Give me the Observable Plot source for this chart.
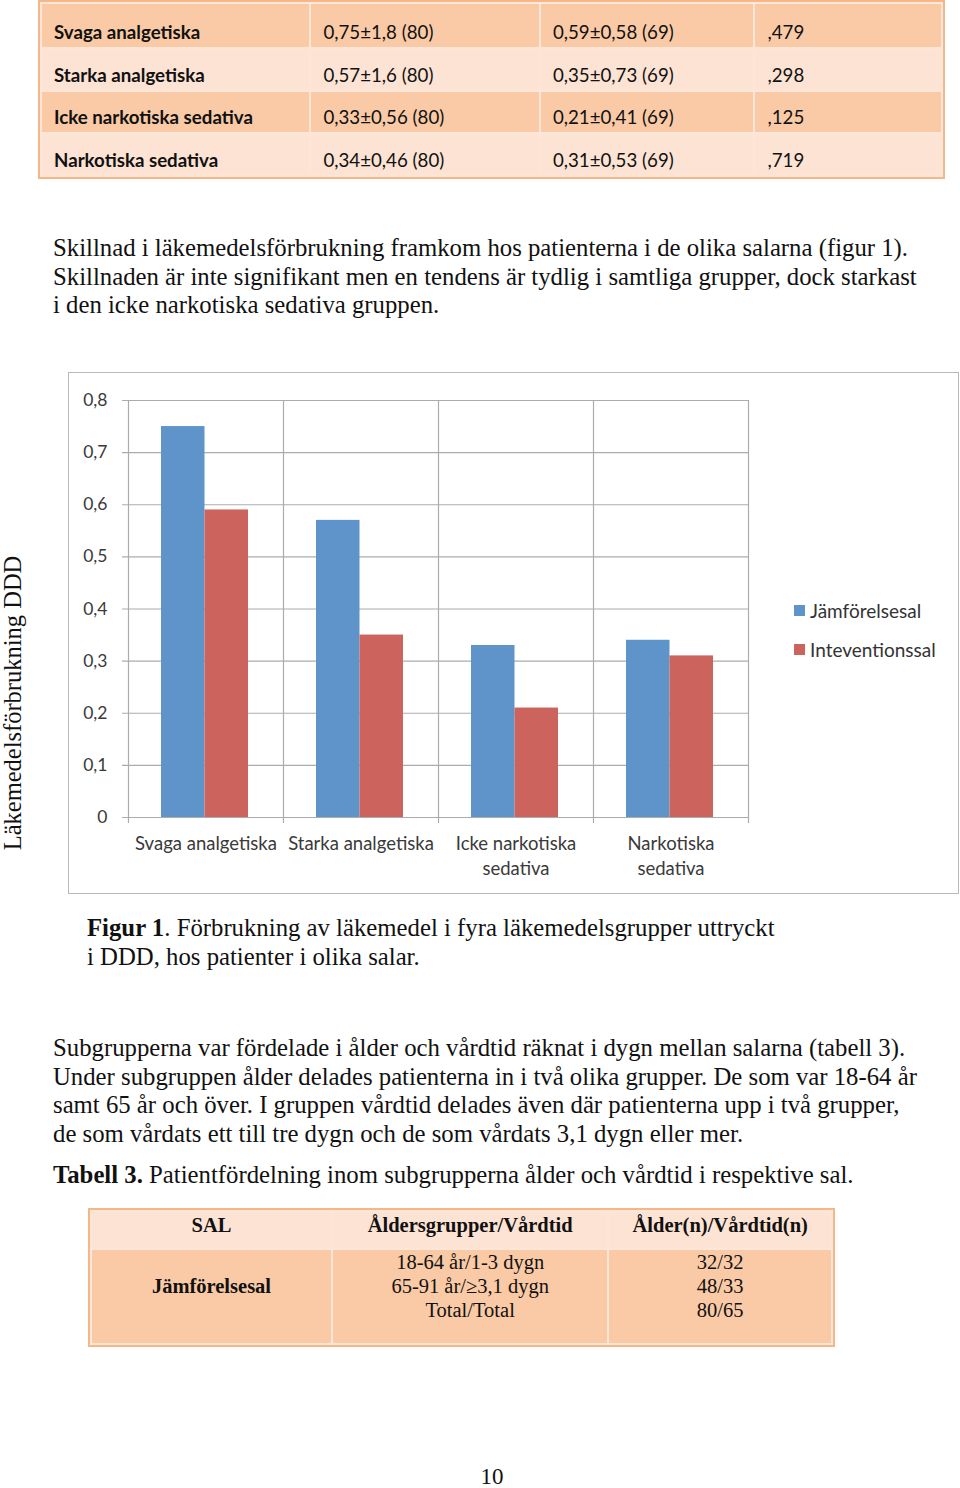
<!DOCTYPE html>
<html>
<head>
<meta charset="utf-8">
<script src="https://cdn.jsdelivr.net/npm/d3@7"></script>
<script src="https://cdn.jsdelivr.net/npm/@observablehq/plot@0.6"></script>
<style>
  html, body { margin: 0; padding: 0; background: #fff; }
  #page { position: relative; width: 960px; height: 1488px; overflow: hidden; background: #fff; }
  .abs { position: absolute; }
  .serif { font-family: "Liberation Serif", "Times New Roman", serif; color: #111; }
  table { border-collapse: collapse; }
  #t1 { left: 40px; top: 2px; width: 903px; font-family: Lato, sans-serif; font-size: 18.7px; color: #111; }
  #t1 td { height: 42.5px; padding: 0 0 4px 12px; vertical-align: bottom; border: 2px solid #fbe6d8; box-sizing: border-box; line-height: 22px; }
  #t1 tr:first-child td { height: 45px; }
  #t1 { outline: 2px solid #f5b68a; }
  #t1 tr.dark td { background: #f9caa5; }
  #t1 tr.light td { background: #fce3d3; }
  #t1 td:first-child { font-weight: bold; }
  .para { left: 53px; font-size: 24.75px; line-height: 28.6px; white-space: nowrap; }
  #frame { left: 68px; top: 372px; width: 889px; height: 520px; border: 1.5px solid #b9b9b9; }
  #chart { left: 0; top: 372px; }
  #ylabel { left: 13px; top: 703px; transform: translate(-50%, -50%) rotate(-90deg); white-space: nowrap; font-size: 24.5px; line-height: 1; }
  #legend { left: 794px; top: 591px; font-family: Lato, sans-serif; font-size: 19px; color: #333; }
  #legend div { height: 39px; display: flex; align-items: center; }
  #legend span.sw { display: inline-block; width: 11px; height: 11px; margin-right: 5px; }
  #t3 { left: 90px; top: 1210px; width: 743px; font-size: 20.5px; outline: 2px solid #f5b68a; }
  #t3 td { border: 2px solid #fbe6d8; text-align: center; box-sizing: border-box; }
  #t3 tr.head td { background: #fce3d3; font-weight: bold; height: 38px; vertical-align: top; padding-top: 2px; }
  #t3 tr.body td { background: #f9caa5; height: 95px; vertical-align: top; padding-top: 0px; line-height: 24px; }
</style>
</head>
<body>
<div id="page">
  <table id="t1" class="abs"></table>

  <div class="abs serif para" style="top:234px;">Skillnad i läkemedelsförbrukning framkom hos patienterna i de olika salarna (figur 1).<br>Skillnaden är inte signifikant men en tendens är tydlig i samtliga grupper, dock starkast<br>i den icke narkotiska sedativa gruppen.</div>

  <div id="frame" class="abs"></div>
  <div id="chart" class="abs"></div>
  <div id="ylabel" class="abs serif">Läkemedelsförbrukning DDD</div>
  <div id="legend" class="abs"></div>

  <div class="abs serif para" style="left:87px; top:914px;"><b>Figur 1</b>. Förbrukning av läkemedel i fyra läkemedelsgrupper uttryckt<br>i DDD, hos patienter i olika salar.</div>

  <div class="abs serif para" style="top:1034px;">Subgrupperna var fördelade i ålder och vårdtid räknat i dygn mellan salarna (tabell 3).<br>Under subgruppen ålder delades patienterna in i två olika grupper. De som var 18-64 år<br>samt 65 år och över. I gruppen vårdtid delades även där patienterna upp i två grupper,<br>de som vårdats ett till tre dygn och de som vårdats 3,1 dygn eller mer.</div>

  <div class="abs serif para" style="top:1161px;"><b>Tabell 3.</b> Patientfördelning inom subgrupperna ålder och vårdtid i respektive sal.</div>

  <table id="t3" class="abs serif"></table>

  <div class="abs serif" style="left:492px; top:1477px; transform: translate(-50%,-50%); font-size:23px;">10</div>
</div>

<script>
// ---- data ----
const categories = ["Svaga analgetiska", "Starka analgetiska", "Icke narkotiska sedativa", "Narkotiska sedativa"];
const xLabels = ["Svaga analgetiska", "Starka analgetiska", "Icke narkotiska\nsedativa", "Narkotiska\nsedativa"];
const seriesNames = ["Jämförelsesal", "Inteventionssal"];
const jamforelsesal = [0.75, 0.57, 0.33, 0.34];
const interventionssal = [0.59, 0.35, 0.21, 0.31];
const yTicks = [0, 0.1, 0.2, 0.3, 0.4, 0.5, 0.6, 0.7, 0.8];
const seriesColors = ["#5f94ca", "#cc645d"];

// table rows (above chart)
const t1Names = categories;
const t1Col2 = ["0,75±1,8 (80)", "0,57±1,6 (80)", "0,33±0,56 (80)", "0,34±0,46 (80)"];
const t1Col3 = ["0,59±0,58 (69)", "0,35±0,73 (69)", "0,21±0,41 (69)", "0,31±0,53 (69)"];
const t1P = [",479", ",298", ",125", ",719"];

// table 3
const t3Head = ["SAL", "Åldersgrupper/Vårdtid", "Ålder(n)/Vårdtid(n)"];
const t3Sal = "Jämförelsesal";
const t3Groups = ["18-64 år/1-3 dygn", "65-91 år/≥3,1 dygn", "Total/Total"];
const t3Counts = ["32/32", "48/33", "80/65"];

// ---- tables ----
const t1 = document.getElementById("t1");
const colW = [270, 230, 215, 188];
t1Names.forEach((n, i) => {
  const tr = document.createElement("tr");
  tr.className = i % 2 === 0 ? "dark" : "light";
  [n, t1Col2[i], t1Col3[i], t1P[i]].forEach((v, j) => {
    const td = document.createElement("td");
    td.textContent = v;
    td.style.width = colW[j] + "px";
    tr.appendChild(td);
  });
  t1.appendChild(tr);
});

const t3 = document.getElementById("t3");
const t3W = [242, 277, 224];
{
  const tr = document.createElement("tr"); tr.className = "head";
  t3Head.forEach((h, j) => { const td = document.createElement("td"); td.textContent = h; td.style.width = t3W[j] + "px"; tr.appendChild(td); });
  t3.appendChild(tr);
  const tr2 = document.createElement("tr"); tr2.className = "body";
  const a = document.createElement("td"); a.innerHTML = "<b>" + t3Sal + "</b>"; a.style.verticalAlign = "top"; a.style.paddingTop = "24px";
  const b = document.createElement("td"); b.innerHTML = t3Groups.join("<br>");
  const c = document.createElement("td"); c.innerHTML = t3Counts.join("<br>");
  tr2.append(a, b, c);
  t3.appendChild(tr2);
}

// ---- chart ----
const data = categories.flatMap((c, i) => [
  {category: c, series: seriesNames[0], value: jamforelsesal[i]},
  {category: c, series: seriesNames[1], value: interventionssal[i]}
]);
const gridColor = "#acacac";
const fmt = d => d === 0 ? "0" : d3.format(".1f")(d).replace(".", ",");

const chart = Plot.plot({
  width: 960,
  height: 521,
  marginLeft: 128,
  marginRight: 212,
  marginTop: 28,
  marginBottom: 76,
  style: {fontFamily: "Lato, sans-serif", fontSize: "17.5px", color: "#3a3a3a", background: "transparent", overflow: "visible"},
  x: {domain: categories, padding: 0, axis: null},
  y: {domain: [0, 0.8], ticks: yTicks, tickFormat: fmt, tickSize: 0, tickPadding: 21, label: null},
  color: {domain: seriesNames, range: seriesColors},
  marks: [
    Plot.ruleY(yTicks, {stroke: gridColor, strokeWidth: 1.2, insetLeft: -6}),
    Plot.ruleX(categories, {x: d => d, dx: -77.5, stroke: gridColor, strokeWidth: 1.2, insetBottom: -6}),
    Plot.ruleX(categories.slice(-1), {x: d => d, dx: 77.5, stroke: gridColor, strokeWidth: 1.2, insetBottom: -6}),
    Plot.barY(data.filter(d => d.series === seriesNames[0]), {x: "category", y: "value", fill: "series", insetLeft: 33, insetRight: 78.5}),
    Plot.barY(data.filter(d => d.series === seriesNames[1]), {x: "category", y: "value", fill: "series", insetLeft: 76.5, insetRight: 35}),
    Plot.text(xLabels, {x: (d, i) => categories[i], text: d => d, frameAnchor: "bottom", dy: 15, lineAnchor: "top", lineHeight: 1.35, fontSize: 18.5, fill: "#3a3a3a"})
  ]
});
document.getElementById("chart").appendChild(chart);

// legend
const legend = document.getElementById("legend");
seriesNames.forEach((s, i) => {
  const row = document.createElement("div");
  row.innerHTML = `<span class="sw" style="background:${seriesColors[i]}"></span>${s}`;
  legend.appendChild(row);
});
</script>
</body>
</html>
